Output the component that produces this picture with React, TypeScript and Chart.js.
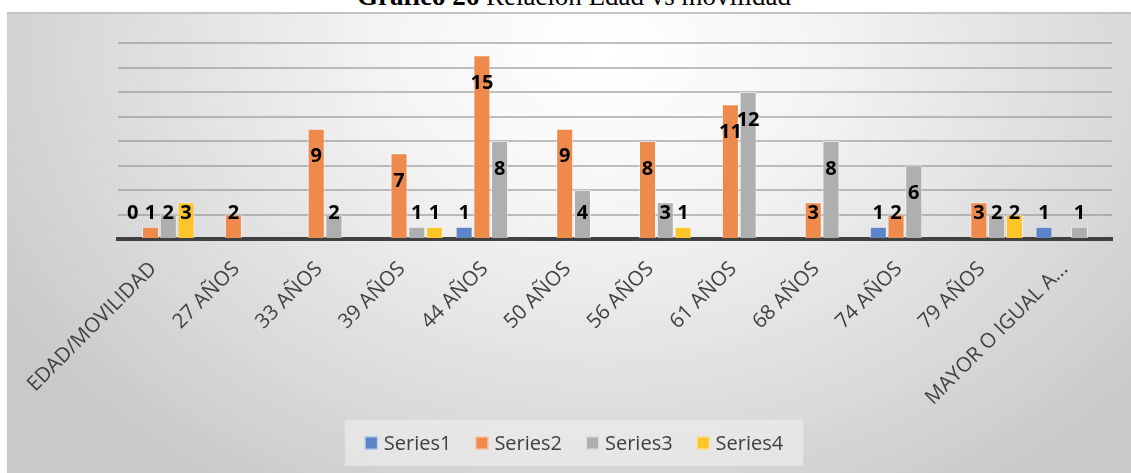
import React, { useEffect, useRef } from 'react';
import { Chart, registerables } from 'chart.js';

Chart.register(...registerables);

const categories = [
  'EDAD/MOVILIDAD',
  '27 AÑOS',
  '33 AÑOS',
  '39 AÑOS',
  '44 AÑOS',
  '50 AÑOS',
  '56 AÑOS',
  '61 AÑOS',
  '68 AÑOS',
  '74 AÑOS',
  '79 AÑOS',
  'MAYOR O IGUAL A...',
];

const series1 = [0, null, null, null, 1, null, null, null, null, 1, null, 1];
const series2 = [1, 2, 9, 7, 15, 9, 8, 11, 3, 2, 3, null];
const series3 = [2, null, 2, 1, 8, 4, 3, 12, 8, 6, 2, 1];
const series4 = [3, null, null, 1, null, null, 1, null, null, null, 2, null];

const seriesNames = ['Series1', 'Series2', 'Series3', 'Series4'];
const seriesColors = ['#5b84c9', '#ee8b4c', '#afafaf', '#fec52a'];

const yMax = 16;
const yStep = 2;

const titleBold = 'Gráfico 26';
const titleRest = ' Relación Edad vs movilidad';

const W = 1124;
const H = 459;
const FONT = '"Open Sans", "DejaVu Sans", sans-serif';

const valueLabels = {
  id: 'valueLabels',
  afterDatasetsDraw(chart: any) {
    const ctx = chart.ctx;
    const yScale = chart.scales.y;
    const base = yScale.getPixelForValue(0);
    ctx.save();
    ctx.font = `bold 20px ${FONT}`;
    ctx.fillStyle = '#000000';
    ctx.textAlign = 'center';
    ctx.textBaseline = 'middle';
    chart.data.datasets.forEach((ds: any, i: number) => {
      const meta = chart.getDatasetMeta(i);
      meta.data.forEach((bar: any, j: number) => {
        const v = ds.data[j];
        if (v === null || v === undefined) return;
        const top = yScale.getPixelForValue(v);
        const y = Math.min(top + 28, base - 26);
        ctx.fillText(String(v), bar.x, y);
      });
    });
    ctx.restore();
  },
};

const customLegend = {
  id: 'customLegend',
  afterDraw(chart: any) {
    const ctx = chart.ctx;
    ctx.save();
    ctx.font = `20px ${FONT}`;
    const sq = 13;
    const gap = 6;
    const spacing = 24;
    const pad = 20;
    const widths = chart.data.datasets.map((d: any) => ctx.measureText(d.label).width);
    const itemW = widths.map((w: number) => sq + gap + w);
    const total = itemW.reduce((a: number, b: number) => a + b, 0) + spacing * (itemW.length - 1);
    const cx = 567;
    const boxTop = 406;
    const boxH = 46;
    const boxLeft = cx - total / 2 - pad;
    ctx.fillStyle = 'rgba(242,242,242,0.55)';
    ctx.fillRect(boxLeft, boxTop, total + pad * 2, boxH);
    const cy = boxTop + boxH / 2;
    let x = cx - total / 2;
    chart.data.datasets.forEach((d: any, i: number) => {
      ctx.fillStyle = d.backgroundColor;
      ctx.fillRect(x, cy - sq / 2, sq, sq);
      ctx.strokeStyle = 'rgba(255,255,255,0.6)';
      ctx.lineWidth = 1;
      ctx.strokeRect(x + 0.5, cy - sq / 2 + 0.5, sq - 1, sq - 1);
      ctx.fillStyle = '#404040';
      ctx.textAlign = 'left';
      ctx.textBaseline = 'middle';
      ctx.fillText(d.label, x + sq + gap, cy + 1);
      x += itemW[i] + spacing;
    });
    ctx.restore();
  },
};

export default function App() {
  const ref = useRef<HTMLCanvasElement | null>(null);

  useEffect(() => {
    if (!ref.current) return;
    const data = [series1, series2, series3, series4];
    const chart = new Chart(ref.current, {
      type: 'bar',
      data: {
        labels: categories,
        datasets: data.map((d, i) => ({
          label: seriesNames[i],
          data: d,
          backgroundColor: seriesColors[i],
          borderColor: 'rgba(255,255,255,0.55)',
          borderWidth: 1,
          categoryPercentage: 0.857,
          barPercentage: 0.96,
        })),
      },
      options: {
        responsive: false,
        maintainAspectRatio: false,
        animation: false,
        layout: { padding: { left: 111, right: 19, top: 29, bottom: 54 } },
        scales: {
          x: {
            grid: { display: false },
            border: { display: true, color: '#404040', width: 4 },
            ticks: {
              maxRotation: 45,
              minRotation: 45,
              autoSkip: false,
              color: '#404040',
              padding: 10,
              labelOffset: -6,
              font: { family: FONT, size: 20.5 },
            },
            afterFit: (s: any) => {
              s.height = 180;
            },
          },
          y: {
            min: 0,
            max: yMax,
            ticks: { display: false, stepSize: yStep },
            grid: {
              color: 'rgba(140,140,140,0.55)',
              lineWidth: 2,
              drawTicks: false,
            },
            border: { display: false },
          },
        },
        plugins: {
          legend: { display: false },
          tooltip: { enabled: false },
        },
      },
      plugins: [valueLabels, customLegend],
    });
    return () => chart.destroy();
  }, []);

  return (
    <div>
      <div
        style={{
          position: 'absolute',
          left: 574,
          top: -17,
          transform: 'translateX(-50%)',
          whiteSpace: 'nowrap',
          fontFamily: '"Liberation Serif", "Times New Roman", serif',
          fontSize: 27,
          lineHeight: '27px',
          color: '#000',
        }}
      >
        <b>{titleBold}</b>
        {titleRest}
      </div>
      <div
        style={{
          position: 'absolute',
          left: 7,
          top: 12,
          width: W,
          height: H,
          borderTop: '2px solid #c3c3c3',
          background:
            'radial-gradient(ellipse 62% 115% at 53% 8%, #ffffff 0%, #f6f6f6 28%, #dcdcdc 70%, #c9c9c9 100%)',
        }}
      >
        <canvas ref={ref} width={W} height={H} style={{ display: 'block', width: W, height: H }} />
      </div>
    </div>
  );
}
